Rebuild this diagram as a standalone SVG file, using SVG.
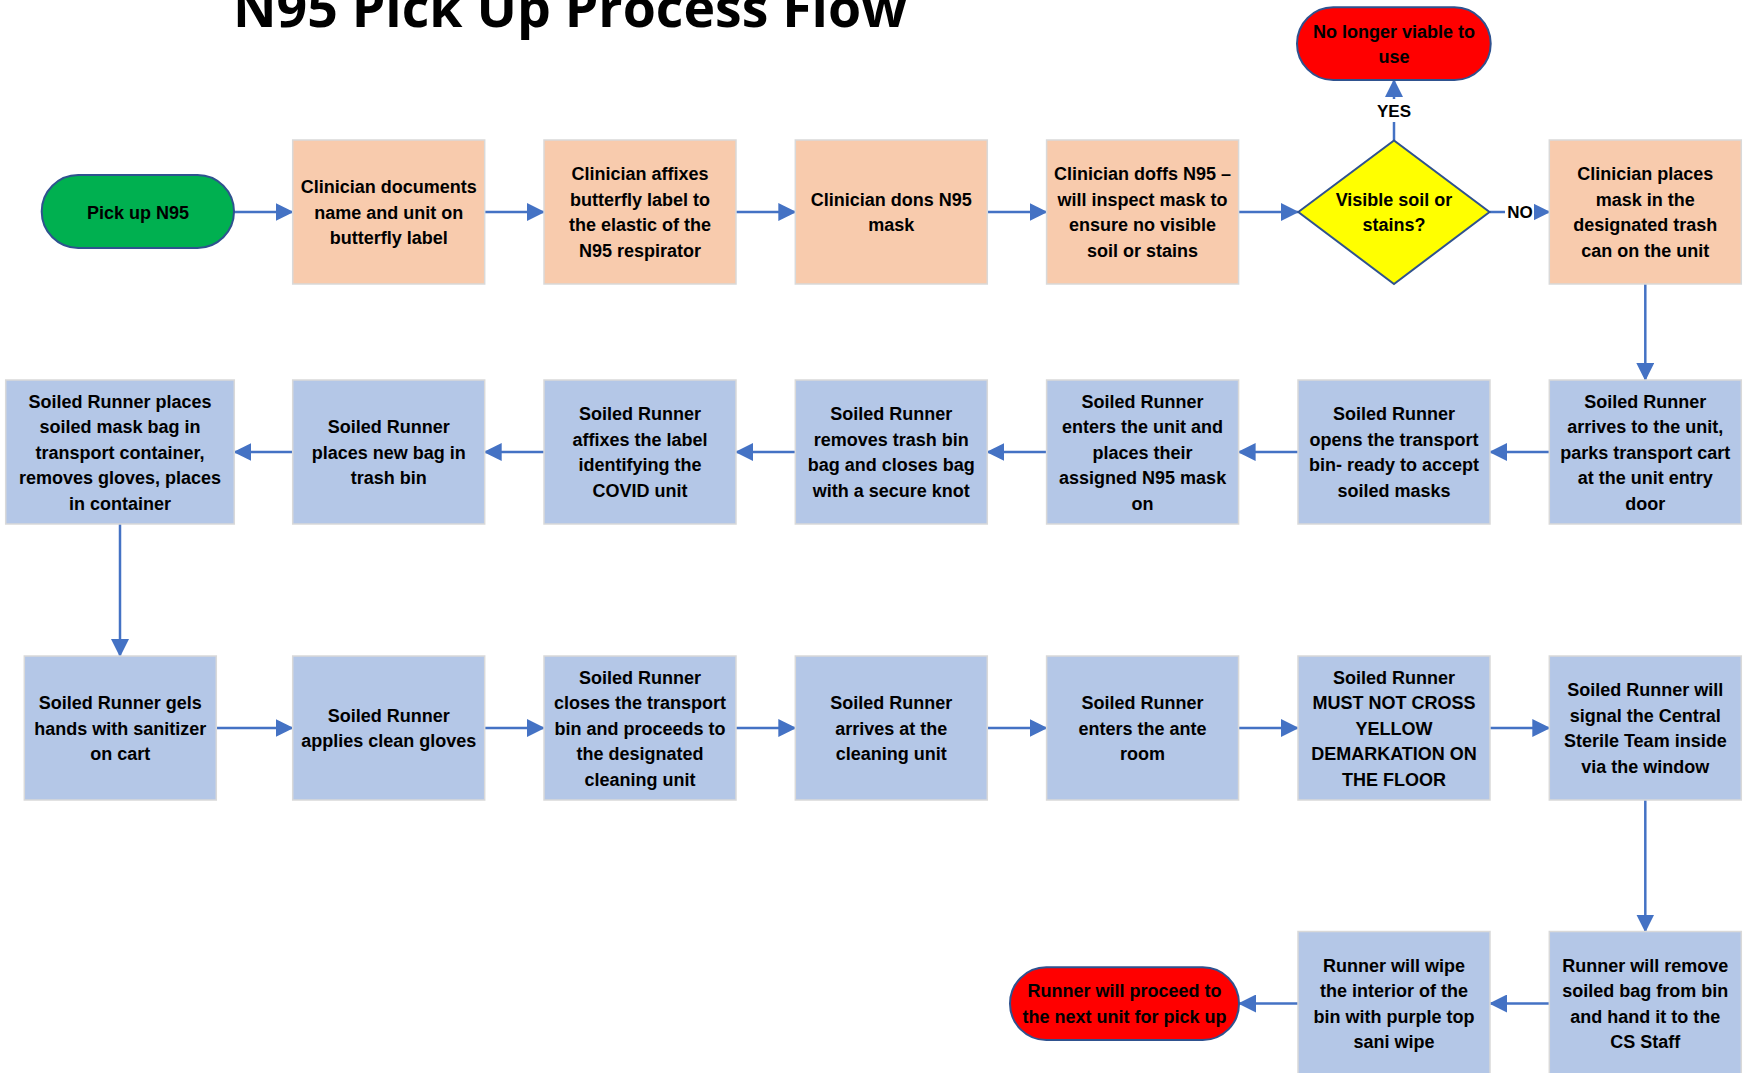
<svg xmlns="http://www.w3.org/2000/svg" width="1745" height="1073" viewBox="0 0 1745 1073">
<defs>
<style>
.t{font-family:'Liberation Sans',Arial,sans-serif;font-weight:700;font-size:18px;text-anchor:middle;fill:#000}
.lbl{font-family:'Liberation Sans',Arial,sans-serif;font-weight:700;font-size:17px;text-anchor:middle;fill:#000}
.peach{fill:#F8CBAD;stroke:#D9D9D9;stroke-width:1.5}
.blue{fill:#B4C7E7;stroke:#D9D9D9;stroke-width:1.5}
.pillg{fill:#00B050;stroke:#2F528F;stroke-width:2}
.pillr{fill:#FF0000;stroke:#2F528F;stroke-width:2}
.dia{fill:#FFFF00;stroke:#2F528F;stroke-width:2}
.c{stroke:#4472C4;stroke-width:2.5;fill:none;marker-end:url(#ah)}
</style>
<marker id="ah" markerUnits="userSpaceOnUse" markerWidth="18" markerHeight="18" refX="17" refY="9" orient="auto">
<path d="M0,0 L18,9 L0,18 Z" fill="#4472C4"/>
</marker>
</defs>
<rect width="1745" height="1073" fill="#FFFFFF"/>
<text x="233" y="27" textLength="674" lengthAdjust="spacingAndGlyphs" style="font-family:'Open Sans','Liberation Sans',sans-serif;font-weight:700;font-size:54px;fill:#000">N95 Pick Up Process Flow</text>

<g id="connectors">
<path class="c" d="M234,212 H292.7"/>
<path class="c" d="M484.7,212 H544"/>
<path class="c" d="M736,212 H795.3"/>
<path class="c" d="M987.3,212 H1046.6"/>
<path class="c" d="M1238.6,212 H1298"/>
<path class="c" d="M1489.7,212 H1549.3"/>
<path class="c" d="M1394,140.5 V80"/>
<path class="c" d="M1645.3,284 V380"/>
<path class="c" d="M1549.3,452 H1490"/>
<path class="c" d="M1298,452 H1238.6"/>
<path class="c" d="M1046.6,452 H987.3"/>
<path class="c" d="M795.3,452 H736"/>
<path class="c" d="M544,452 H484.7"/>
<path class="c" d="M292.7,452 H234.3"/>
<path class="c" d="M120,524 V656"/>
<path class="c" d="M216.3,728 H292.7"/>
<path class="c" d="M484.7,728 H544"/>
<path class="c" d="M736,728 H795.3"/>
<path class="c" d="M987.3,728 H1046.6"/>
<path class="c" d="M1238.6,728 H1298"/>
<path class="c" d="M1490,728 H1549.3"/>
<path class="c" d="M1645.3,800 V931.5"/>
<path class="c" d="M1549.3,1003.5 H1490"/>
<path class="c" d="M1298,1003.5 H1239"/>
<rect x="1376" y="99" width="36" height="23" fill="#FFFFFF"/>
<text class="lbl" x="1394" y="117">YES</text>
<rect x="1505" y="202" width="29" height="20" fill="#FFFFFF"/>
<text class="lbl" x="1520" y="218">NO</text>
</g>

<g id="n-start"><rect class="pillg" x="41.7" y="175" width="192.3" height="73" rx="36.5"/>
<text class="t" x="138" y="218.5">Pick up N95</text></g>

<g id="n-doc"><rect class="peach" x="292.7" y="140" width="192" height="144"/>
<text class="t"><tspan x="388.7" y="193">Clinician documents</tspan><tspan x="388.7" y="218.5">name and unit on</tspan><tspan x="388.7" y="244">butterfly label</tspan></text></g>

<g id="n-affix"><rect class="peach" x="544" y="140" width="192" height="144"/>
<text class="t"><tspan x="640" y="180.25">Clinician affixes</tspan><tspan x="640" y="205.75">butterfly label to</tspan><tspan x="640" y="231.25">the elastic of the</tspan><tspan x="640" y="256.75">N95 respirator</tspan></text></g>

<g id="n-dons"><rect class="peach" x="795.3" y="140" width="192" height="144"/>
<text class="t"><tspan x="891.3" y="205.75">Clinician dons N95</tspan><tspan x="891.3" y="231.25">mask</tspan></text></g>

<g id="n-doffs"><rect class="peach" x="1046.6" y="140" width="192" height="144"/>
<text class="t"><tspan x="1142.6" y="180.25">Clinician doffs N95 –</tspan><tspan x="1142.6" y="205.75">will inspect mask to</tspan><tspan x="1142.6" y="231.25">ensure no visible</tspan><tspan x="1142.6" y="256.75">soil or stains</tspan></text></g>

<g id="n-decision"><polygon class="dia" points="1298.3,212 1394,140.5 1489.5,212 1394,284"/>
<text class="t"><tspan x="1394" y="205.75">Visible soil or</tspan><tspan x="1394" y="231.25">stains?</tspan></text></g>

<g id="n-discard"><rect class="pillr" x="1297" y="7.3" width="193.7" height="72.7" rx="36.3"/>
<text class="t"><tspan x="1394" y="37.5">No longer viable to</tspan><tspan x="1394" y="63">use</tspan></text></g>

<g id="n-places-trash"><rect class="peach" x="1549.3" y="140" width="192" height="144"/>
<text class="t"><tspan x="1645.3" y="180.25">Clinician places</tspan><tspan x="1645.3" y="205.75">mask in the</tspan><tspan x="1645.3" y="231.25">designated trash</tspan><tspan x="1645.3" y="256.75">can on the unit</tspan></text></g>

<g id="n-arrives"><rect class="blue" x="1549.3" y="380" width="192" height="144"/>
<text class="t"><tspan x="1645.3" y="407.5">Soiled Runner</tspan><tspan x="1645.3" y="433">arrives to the unit,</tspan><tspan x="1645.3" y="458.5">parks transport cart</tspan><tspan x="1645.3" y="484">at the unit entry</tspan><tspan x="1645.3" y="509.5">door</tspan></text></g>

<g id="n-opens"><rect class="blue" x="1298" y="380" width="192" height="144"/>
<text class="t"><tspan x="1394" y="420.25">Soiled Runner</tspan><tspan x="1394" y="445.75">opens the transport</tspan><tspan x="1394" y="471.25">bin- ready to accept</tspan><tspan x="1394" y="496.75">soiled masks</tspan></text></g>

<g id="n-enters-unit"><rect class="blue" x="1046.6" y="380" width="192" height="144"/>
<text class="t"><tspan x="1142.6" y="407.5">Soiled Runner</tspan><tspan x="1142.6" y="433">enters the unit and</tspan><tspan x="1142.6" y="458.5">places their</tspan><tspan x="1142.6" y="484">assigned N95 mask</tspan><tspan x="1142.6" y="509.5">on</tspan></text></g>

<g id="n-removes-bag"><rect class="blue" x="795.3" y="380" width="192" height="144"/>
<text class="t"><tspan x="891.3" y="420.25">Soiled Runner</tspan><tspan x="891.3" y="445.75">removes trash bin</tspan><tspan x="891.3" y="471.25">bag and closes bag</tspan><tspan x="891.3" y="496.75">with a secure knot</tspan></text></g>

<g id="n-label"><rect class="blue" x="544" y="380" width="192" height="144"/>
<text class="t"><tspan x="640" y="420.25">Soiled Runner</tspan><tspan x="640" y="445.75">affixes the label</tspan><tspan x="640" y="471.25">identifying the</tspan><tspan x="640" y="496.75">COVID unit</tspan></text></g>

<g id="n-newbag"><rect class="blue" x="292.7" y="380" width="192" height="144"/>
<text class="t"><tspan x="388.7" y="433">Soiled Runner</tspan><tspan x="388.7" y="458.5">places new bag in</tspan><tspan x="388.7" y="484">trash bin</tspan></text></g>

<g id="n-container"><rect class="blue" x="5.7" y="380" width="228.6" height="144"/>
<text class="t"><tspan x="120" y="407.5">Soiled Runner places</tspan><tspan x="120" y="433">soiled mask bag in</tspan><tspan x="120" y="458.5">transport container,</tspan><tspan x="120" y="484">removes gloves, places</tspan><tspan x="120" y="509.5">in container</tspan></text></g>

<g id="n-gels"><rect class="blue" x="24.3" y="656" width="192" height="144"/>
<text class="t"><tspan x="120.3" y="709">Soiled Runner gels</tspan><tspan x="120.3" y="734.5">hands with sanitizer</tspan><tspan x="120.3" y="760">on cart</tspan></text></g>

<g id="n-gloves"><rect class="blue" x="292.7" y="656" width="192" height="144"/>
<text class="t"><tspan x="388.7" y="721.75">Soiled Runner</tspan><tspan x="388.7" y="747.25">applies clean gloves</tspan></text></g>

<g id="n-closes"><rect class="blue" x="544" y="656" width="192" height="144"/>
<text class="t"><tspan x="640" y="683.5">Soiled Runner</tspan><tspan x="640" y="709">closes the transport</tspan><tspan x="640" y="734.5">bin and proceeds to</tspan><tspan x="640" y="760">the designated</tspan><tspan x="640" y="785.5">cleaning unit</tspan></text></g>

<g id="n-arrives-cleaning"><rect class="blue" x="795.3" y="656" width="192" height="144"/>
<text class="t"><tspan x="891.3" y="709">Soiled Runner</tspan><tspan x="891.3" y="734.5">arrives at the</tspan><tspan x="891.3" y="760">cleaning unit</tspan></text></g>

<g id="n-ante"><rect class="blue" x="1046.6" y="656" width="192" height="144"/>
<text class="t"><tspan x="1142.6" y="709">Soiled Runner</tspan><tspan x="1142.6" y="734.5">enters the ante</tspan><tspan x="1142.6" y="760">room</tspan></text></g>

<g id="n-mustnot"><rect class="blue" x="1298" y="656" width="192" height="144"/>
<text class="t"><tspan x="1394" y="683.5">Soiled Runner</tspan><tspan x="1394" y="709">MUST NOT CROSS</tspan><tspan x="1394" y="734.5">YELLOW</tspan><tspan x="1394" y="760">DEMARKATION ON</tspan><tspan x="1394" y="785.5">THE FLOOR</tspan></text></g>

<g id="n-signal"><rect class="blue" x="1549.3" y="656" width="192" height="144"/>
<text class="t"><tspan x="1645.3" y="696.25">Soiled Runner will</tspan><tspan x="1645.3" y="721.75">signal the Central</tspan><tspan x="1645.3" y="747.25">Sterile Team inside</tspan><tspan x="1645.3" y="772.75">via the window</tspan></text></g>

<g id="n-remove-bag"><rect class="blue" x="1549.3" y="931.5" width="192" height="144"/>
<text class="t"><tspan x="1645.3" y="971.75">Runner will remove</tspan><tspan x="1645.3" y="997.25">soiled bag from bin</tspan><tspan x="1645.3" y="1022.75">and hand it to the</tspan><tspan x="1645.3" y="1048.25">CS Staff</tspan></text></g>

<g id="n-wipe"><rect class="blue" x="1298" y="931.5" width="192" height="144"/>
<text class="t"><tspan x="1394" y="971.75">Runner will wipe</tspan><tspan x="1394" y="997.25">the interior of the</tspan><tspan x="1394" y="1022.75">bin with purple top</tspan><tspan x="1394" y="1048.25">sani wipe</tspan></text></g>

<g id="n-end"><rect class="pillr" x="1010" y="967.3" width="229" height="72.7" rx="36.3"/>
<text class="t"><tspan x="1124.5" y="997.25">Runner will proceed to</tspan><tspan x="1124.5" y="1022.75">the next unit for pick up</tspan></text></g>
</svg>
